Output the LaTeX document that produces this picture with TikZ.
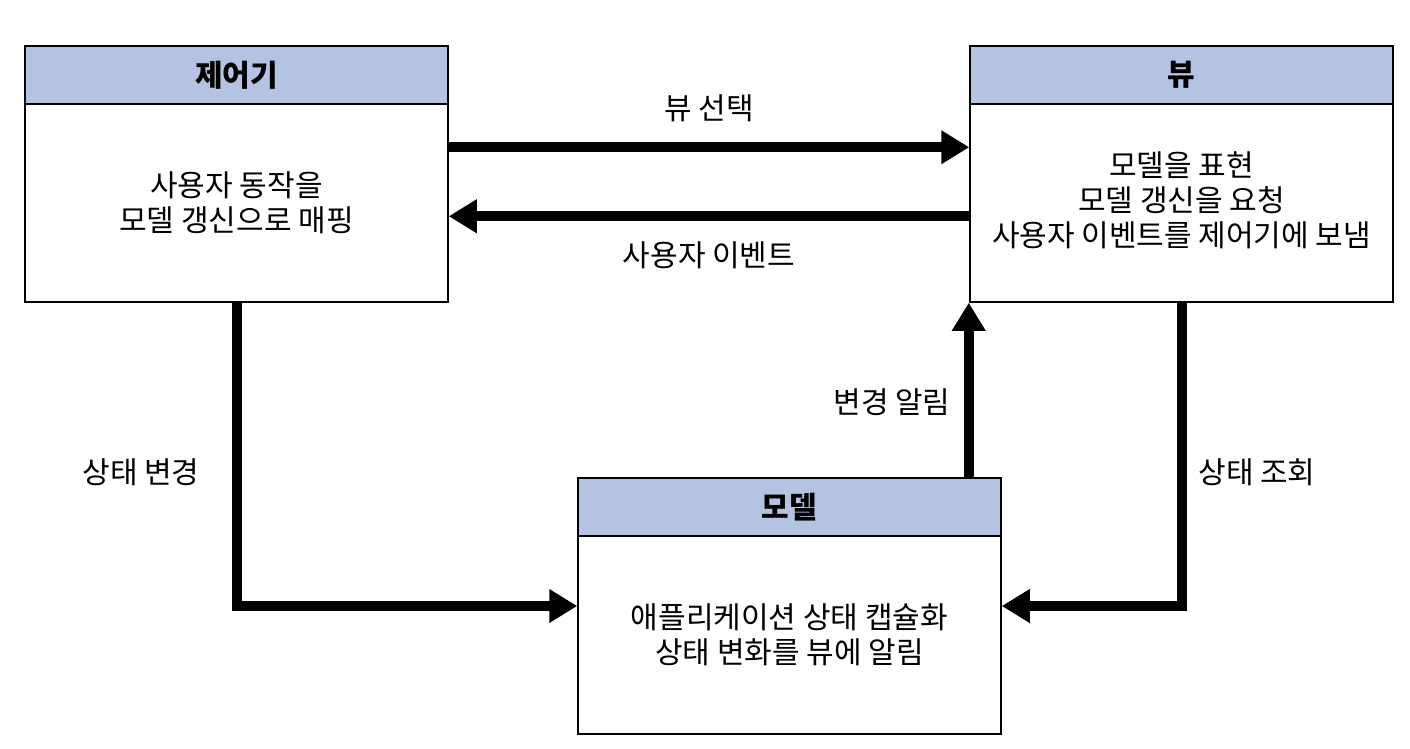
\documentclass[tikz,border=0pt]{standalone}
\usepackage{fontspec}
\setmainfont{Noto Sans CJK KR}
\usetikzlibrary{arrows.meta,positioning,calc}
\tikzset{
  box/.style={draw, line width=1.5pt, minimum width=423pt, minimum height=256pt,
    inner sep=0pt, align=center, text depth=0pt},
  head/.style={draw, line width=1.5pt, fill=headblue, minimum width=423pt,
    minimum height=58pt, inner sep=0pt, font=\fontsize{30}{35}\selectfont\bfseries},
  flow/.style={line width=10pt, -{Triangle[length=28pt,width=32pt]}},
  lbl/.style={inner sep=0pt}
}
\definecolor{headblue}{HTML}{B4C3E1}
\begin{document}
\begin{tikzpicture}[x=1pt, y=-1pt, font=\fontsize{30}{35}\selectfont]
  \useasboundingbox (0,0) rectangle (1410,748);

  % boxes
  \node[box] (ctrl) at (236.5,174) {};
  \node[head, anchor=north] (ctrlh) at (ctrl.north) {제어기};
  \node[align=center] (ctrlt) at (236.5,203) {사용자 동작을\\모델 갱신으로 매핑};

  \node[box] (view) at (1181.5,174) {};
  \node[head, anchor=north] (viewh) at (view.north) {뷰};
  \node[align=center] (viewt) at (1181.5,200) {모델을 표현\\모델 갱신을 요청\\사용자 이벤트를 제어기에 보냄};

  \node[box] (model) at (789.5,606) {};
  \node[head, anchor=north] (modelh) at (model.north) {모델};
  \node[align=center] (modelt) at (789.5,635) {애플리케이션 상태 캡슐화\\상태 변화를 뷰에 알림};

  % connectors
  \draw[flow] ($(ctrl.north east)+(0,102)$) -- ($(view.north west)+(0,102)$)
    node[lbl, midway, above=20pt] {뷰 선택};
  \draw[flow] ($(view.north west)+(0,171)$) -- ($(ctrl.north east)+(0,171)$)
    node[lbl, midway, below=20pt] {사용자 이벤트};

  \coordinate (cturn) at (ctrl.south |- model.west);
  \draw[flow] (ctrl.south) -- (cturn) -- (model.west);
  \node[lbl] at (141,472) {상태 변경};

  \coordinate (mtop) at ($(model.north east)+(-33,0)$);
  \draw[flow] (mtop) -- (mtop |- view.south);
  \node[lbl] at (892,402) {변경 알림};

  \coordinate (vturn) at (view.south |- model.east);
  \draw[flow] (view.south) -- (vturn) -- (model.east);
  \node[lbl] at (1257,472) {상태 조회};
\end{tikzpicture}
\end{document}
